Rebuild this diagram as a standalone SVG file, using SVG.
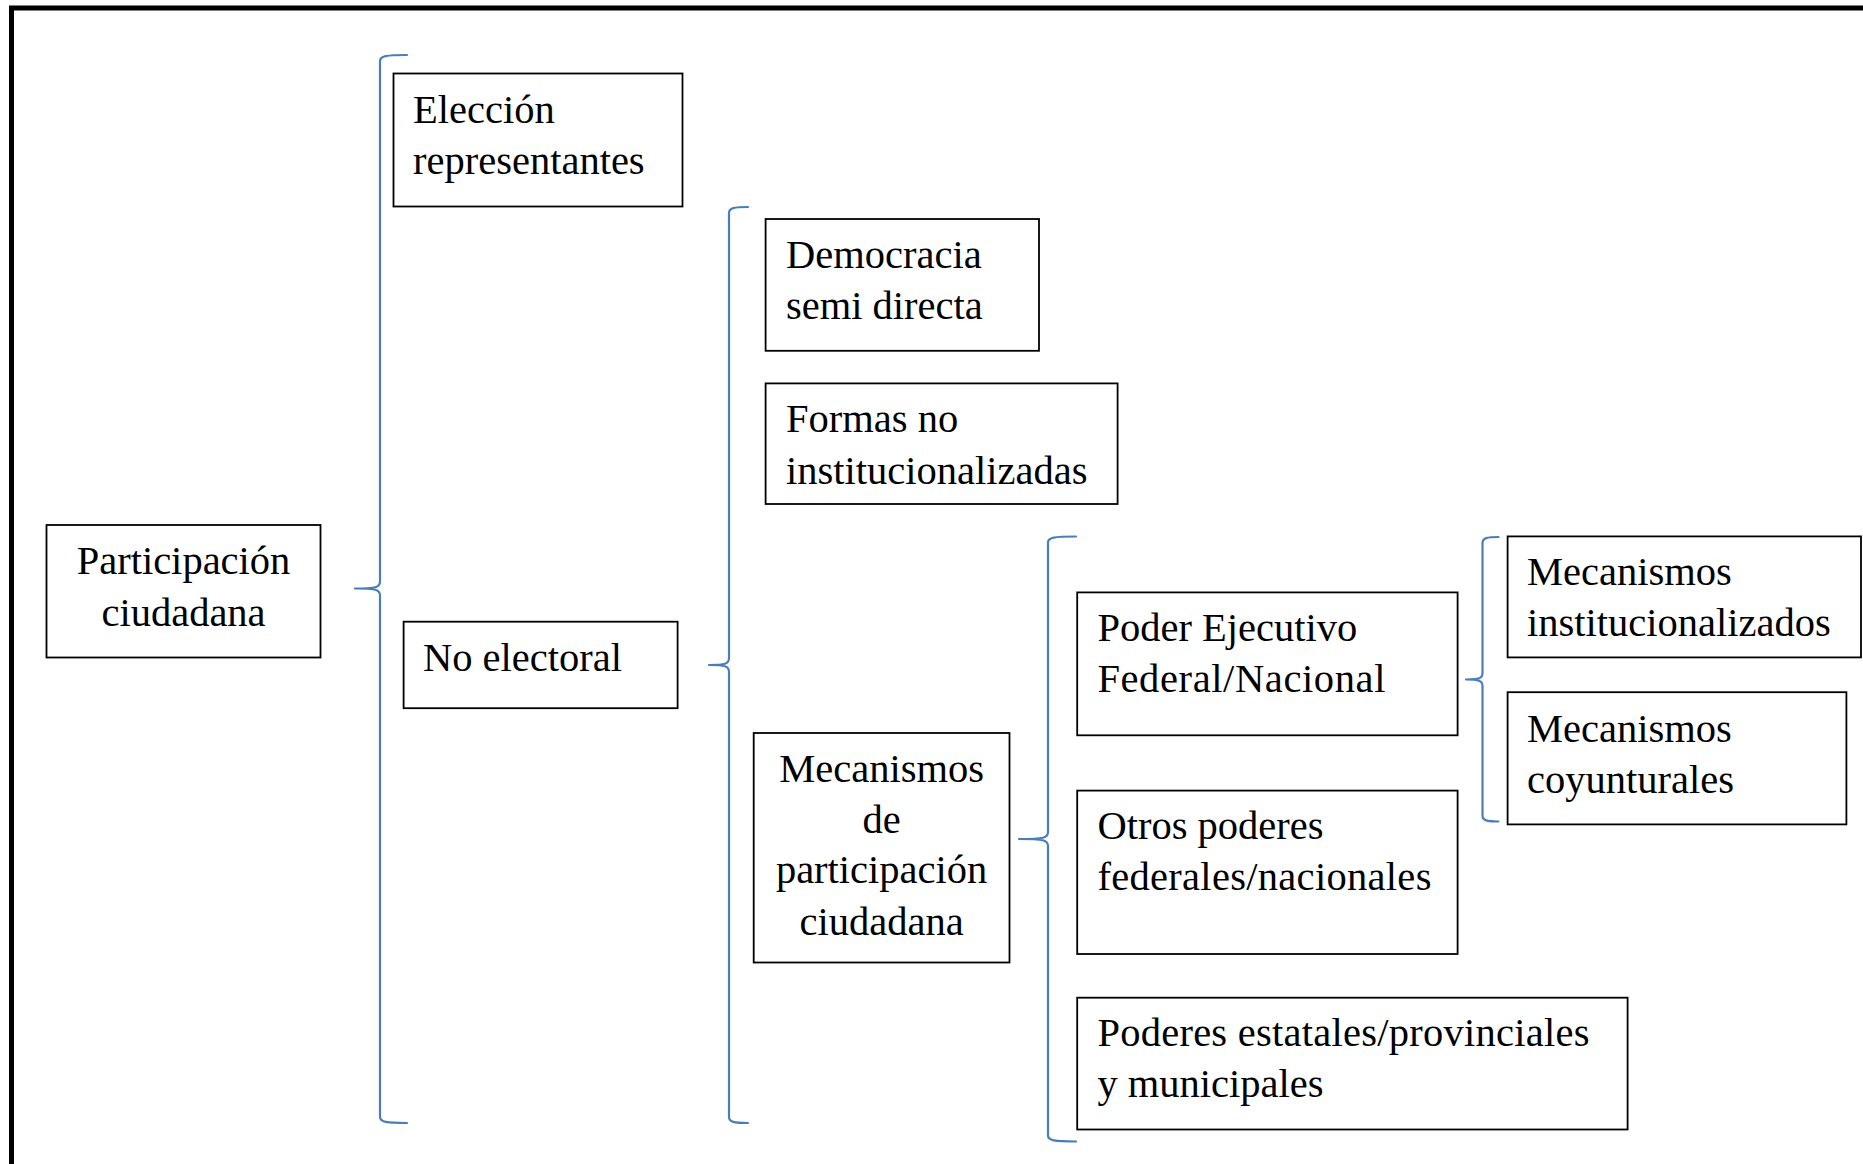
<svg xmlns="http://www.w3.org/2000/svg" width="1863" height="1164" viewBox="0 0 1863 1164">
<style>
.box{fill:#fff;stroke:#000;stroke-width:1.8}
.brace{fill:none;stroke:#4a7ebb;stroke-width:2.2;stroke-linejoin:round;stroke-linecap:round}
text{font-family:"Liberation Serif","Times New Roman",serif;font-size:40.5px;fill:#000}
.c{text-anchor:middle}
</style>
<rect x="0" y="0" width="1863" height="1164" fill="#fff"/>
<rect x="11.5" y="8" width="1900" height="1200" fill="none" stroke="#000" stroke-width="5"/>
<g id="connectors">
<path class="brace" d="M407,55 C386,55 380,56 380,61 L380,581.5 C380,587.5 376,588.5 355,588.5 C376,588.5 380,589.5 380,595.5 L380,1117 C380,1122 386,1123 407,1123"/>
<path class="brace" d="M748,207 C734,207 729,208 729,213 L729,658 C729,664 725,665 709,665 C725,665 729,666 729,672 L729,1117 C729,1122 734,1123 748,1123"/>
<path class="brace" d="M1076,536.5 C1054,536.5 1048,537.5 1048,542.5 L1048,832 C1048,838 1044,839 1019,839 C1044,839 1048,840 1048,846 L1048,1135.5 C1048,1140.5 1054,1141.5 1076,1141.5"/>
<path class="brace" d="M1498.5,537 C1487,537 1482.5,538 1482.5,543 L1482.5,673 C1482.5,678.5 1479,679.5 1466,679.5 C1479,679.5 1482.5,680.5 1482.5,686 L1482.5,815.5 C1482.5,820.5 1487,821.5 1498.5,821.5"/>
</g>
<g id="participacion">
<rect class="box" x="46.5" y="525" width="274" height="132.5"/>
<text class="c" x="183.5" y="573.5">Participación</text>
<text class="c" x="183.5" y="625.8">ciudadana</text>
</g>
<g id="eleccion">
<rect class="box" x="393.5" y="73.5" width="289" height="133"/>
<text x="413" y="122.5">Elección</text>
<text x="413" y="173.7">representantes</text>
</g>
<g id="no-electoral">
<rect class="box" x="403.6" y="621.7" width="274" height="86.5"/>
<text x="423" y="671">No electoral</text>
</g>
<g id="democracia">
<rect class="box" x="765.6" y="219" width="273.4" height="131.8"/>
<text x="786" y="268">Democracia</text>
<text x="786" y="319">semi directa</text>
</g>
<g id="formas">
<rect class="box" x="765.6" y="383.4" width="352" height="120.6"/>
<text x="786" y="432.4">Formas no</text>
<text x="786" y="484.4">institucionalizadas</text>
</g>
<g id="mecanismos-participacion">
<rect class="box" x="753.7" y="733" width="255.8" height="229.5"/>
<text class="c" x="881.6" y="782.4">Mecanismos</text>
<text class="c" x="881.6" y="832.6">de</text>
<text class="c" x="881.6" y="883.4">participación</text>
<text class="c" x="881.6" y="934.6">ciudadana</text>
</g>
<g id="poder-ejecutivo">
<rect class="box" x="1077.2" y="592.4" width="380.4" height="142.9"/>
<text x="1097.4" y="641.4">Poder Ejecutivo</text>
<text x="1097.4" y="692.2" textLength="288" lengthAdjust="spacing">Federal/Nacional</text>
</g>
<g id="otros-poderes">
<rect class="box" x="1077.2" y="790.6" width="380.4" height="163.4"/>
<text x="1097.4" y="839.2">Otros poderes</text>
<text x="1097.4" y="890" textLength="334" lengthAdjust="spacing">federales/nacionales</text>
</g>
<g id="poderes-estatales">
<rect class="box" x="1077.2" y="997.7" width="550.4" height="131.8"/>
<text x="1097.4" y="1046" textLength="492" lengthAdjust="spacing">Poderes estatales/provinciales</text>
<text x="1097.4" y="1097.2">y municipales</text>
</g>
<g id="mecanismos-institucionalizados">
<rect class="box" x="1507.6" y="536.4" width="353.4" height="121"/>
<text x="1527" y="584.8">Mecanismos</text>
<text x="1527" y="635.8">institucionalizados</text>
</g>
<g id="mecanismos-coyunturales">
<rect class="box" x="1507.6" y="692.2" width="338.8" height="132.2"/>
<text x="1527" y="741.6">Mecanismos</text>
<text x="1527" y="792.5">coyunturales</text>
</g>
</svg>
